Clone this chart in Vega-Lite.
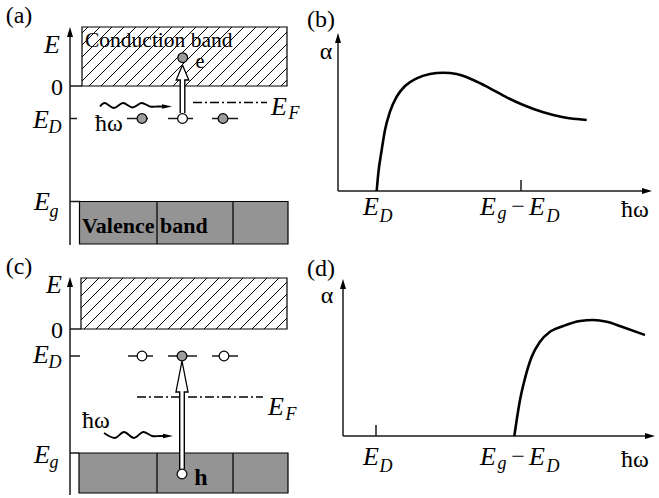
{
 "$schema": "https://vega.github.io/schema/vega-lite/v6.json",
 "width": 659, "height": 498, "padding": 0,
 "autosize": {"type": "fit", "contains": "padding"},
 "config": {"view": {"stroke": null}, "text": {"font": "Liberation Serif", "baseline": "alphabetic"}},
 "encoding": {
  "x": {"field": "x", "type": "quantitative", "scale": {"domain": [0, 659], "nice": false, "zero": false}, "axis": null},
  "y": {"field": "y", "type": "quantitative", "scale": {"domain": [0, 498], "nice": false, "zero": false, "reverse": true}, "axis": null}
 },
 "layer": [
  {
   "data": {"values": [
    {"x": 79.5, "x2": 288, "y": 201.5, "y2": 244},
    {"x": 79, "x2": 288, "y": 453, "y2": 493}
   ]},
   "mark": {"type": "rect", "fill": "#949494", "stroke": "black", "strokeWidth": 1.2},
   "encoding": {"x2": {"field": "x2"}, "y2": {"field": "y2"}}
  },
  {
   "data": {"values": [
    {"x": 82, "y": 33, "x2": 88, "y2": 27}, {"x": 82, "y": 45, "x2": 100, "y2": 27},
    {"x": 82, "y": 57, "x2": 112, "y2": 27}, {"x": 82, "y": 69, "x2": 124, "y2": 27},
    {"x": 82, "y": 81, "x2": 136, "y2": 27}, {"x": 89, "y": 86, "x2": 148, "y2": 27},
    {"x": 101, "y": 86, "x2": 160, "y2": 27}, {"x": 113, "y": 86, "x2": 172, "y2": 27},
    {"x": 125, "y": 86, "x2": 184, "y2": 27}, {"x": 137, "y": 86, "x2": 196, "y2": 27},
    {"x": 149, "y": 86, "x2": 208, "y2": 27}, {"x": 161, "y": 86, "x2": 220, "y2": 27},
    {"x": 173, "y": 86, "x2": 232, "y2": 27}, {"x": 185, "y": 86, "x2": 244, "y2": 27},
    {"x": 197, "y": 86, "x2": 256, "y2": 27}, {"x": 209, "y": 86, "x2": 268, "y2": 27},
    {"x": 221, "y": 86, "x2": 280, "y2": 27}, {"x": 233, "y": 86, "x2": 287, "y2": 32},
    {"x": 245, "y": 86, "x2": 287, "y2": 44}, {"x": 257, "y": 86, "x2": 287, "y2": 56},
    {"x": 269, "y": 86, "x2": 287, "y2": 68}, {"x": 281, "y": 86, "x2": 287, "y2": 80},
    {"x": 81, "y": 284, "x2": 87, "y2": 278}, {"x": 81, "y": 296, "x2": 99, "y2": 278},
    {"x": 81, "y": 308, "x2": 111, "y2": 278}, {"x": 81, "y": 320, "x2": 123, "y2": 278},
    {"x": 84, "y": 329, "x2": 135, "y2": 278}, {"x": 96, "y": 329, "x2": 147, "y2": 278},
    {"x": 108, "y": 329, "x2": 159, "y2": 278}, {"x": 120, "y": 329, "x2": 171, "y2": 278},
    {"x": 132, "y": 329, "x2": 183, "y2": 278}, {"x": 144, "y": 329, "x2": 195, "y2": 278},
    {"x": 156, "y": 329, "x2": 207, "y2": 278}, {"x": 168, "y": 329, "x2": 219, "y2": 278},
    {"x": 180, "y": 329, "x2": 231, "y2": 278}, {"x": 192, "y": 329, "x2": 243, "y2": 278},
    {"x": 204, "y": 329, "x2": 255, "y2": 278}, {"x": 216, "y": 329, "x2": 267, "y2": 278},
    {"x": 228, "y": 329, "x2": 279, "y2": 278}, {"x": 240, "y": 329, "x2": 287, "y2": 282},
    {"x": 252, "y": 329, "x2": 287, "y2": 294}, {"x": 264, "y": 329, "x2": 287, "y2": 306},
    {"x": 276, "y": 329, "x2": 287, "y2": 318}
   ]},
   "mark": {"type": "rule", "stroke": "black", "strokeWidth": 1},
   "encoding": {"x2": {"field": "x2"}, "y2": {"field": "y2"}}
  },
  {
   "data": {"values": [
    {"x": 82, "x2": 287, "y": 27, "y2": 86},
    {"x": 81, "x2": 287, "y": 278, "y2": 329}
   ]},
   "mark": {"type": "rect", "fillOpacity": 0, "stroke": "black", "strokeWidth": 1.2},
   "encoding": {"x2": {"field": "x2"}, "y2": {"field": "y2"}}
  },
  {
   "data": {"values": [
    {"x": 70, "y": 30, "x2": 70, "y2": 245},
    {"x": 70, "y": 86, "x2": 82, "y2": 86},
    {"x": 70, "y": 118.5, "x2": 77, "y2": 118.5},
    {"x": 70, "y": 201.5, "x2": 80, "y2": 201.5},
    {"x": 157, "y": 201.5, "x2": 157, "y2": 244},
    {"x": 233, "y": 201.5, "x2": 233, "y2": 244},
    {"x": 127, "y": 118.5, "x2": 148, "y2": 118.5},
    {"x": 168, "y": 118.5, "x2": 193, "y2": 118.5},
    {"x": 212, "y": 118.5, "x2": 238, "y2": 118.5},
    {"x": 70, "y": 280, "x2": 70, "y2": 495},
    {"x": 70, "y": 329, "x2": 81, "y2": 329},
    {"x": 70, "y": 356, "x2": 80, "y2": 356},
    {"x": 70, "y": 453, "x2": 79, "y2": 453},
    {"x": 157, "y": 453, "x2": 157, "y2": 493},
    {"x": 233, "y": 453, "x2": 233, "y2": 493},
    {"x": 128, "y": 356, "x2": 153, "y2": 356},
    {"x": 168, "y": 356, "x2": 197, "y2": 356},
    {"x": 212, "y": 356, "x2": 238, "y2": 356},
    {"x": 338, "y": 36, "x2": 338, "y2": 191},
    {"x": 338, "y": 191, "x2": 649, "y2": 191},
    {"x": 521, "y": 180, "x2": 521, "y2": 191},
    {"x": 343, "y": 282, "x2": 343, "y2": 436},
    {"x": 343, "y": 436, "x2": 652, "y2": 436},
    {"x": 376, "y": 425, "x2": 376, "y2": 436}
   ]},
   "mark": {"type": "rule", "stroke": "#1a1a1a", "strokeWidth": 1.5},
   "encoding": {"x2": {"field": "x2"}, "y2": {"field": "y2"}}
  },
  {
   "data": {"values": [
    {"x": 193, "y": 102.5, "x2": 267, "y2": 102.5},
    {"x": 137, "y": 397, "x2": 263, "y2": 397}
   ]},
   "mark": {"type": "rule", "stroke": "black", "strokeWidth": 1.6, "strokeDash": [9, 3, 2, 3]},
   "encoding": {"x2": {"field": "x2"}, "y2": {"field": "y2"}}
  },
  {
   "data": {"values": [
    {"id": "b", "x": 376.7, "y": 191}, {"id": "b", "x": 378.3, "y": 173.3},
    {"id": "b", "x": 381.7, "y": 150}, {"id": "b", "x": 385, "y": 130},
    {"id": "b", "x": 390, "y": 111.7}, {"id": "b", "x": 396.7, "y": 96.7},
    {"id": "b", "x": 405, "y": 86}, {"id": "b", "x": 416.7, "y": 78.3},
    {"id": "b", "x": 430, "y": 74}, {"id": "b", "x": 443.3, "y": 72.7},
    {"id": "b", "x": 456.7, "y": 74}, {"id": "b", "x": 473.3, "y": 80},
    {"id": "b", "x": 490, "y": 88.3}, {"id": "b", "x": 506.7, "y": 97.3},
    {"id": "b", "x": 523.3, "y": 105}, {"id": "b", "x": 543.3, "y": 112.3},
    {"id": "b", "x": 563.3, "y": 117.3}, {"id": "b", "x": 586.7, "y": 120},
    {"id": "d", "x": 514.3, "y": 436}, {"id": "d", "x": 516.7, "y": 420},
    {"id": "d", "x": 520, "y": 400}, {"id": "d", "x": 525, "y": 378.3},
    {"id": "d", "x": 531.7, "y": 356.7}, {"id": "d", "x": 540, "y": 341.7},
    {"id": "d", "x": 550, "y": 331.7}, {"id": "d", "x": 563.3, "y": 326},
    {"id": "d", "x": 580, "y": 321}, {"id": "d", "x": 593.3, "y": 320},
    {"id": "d", "x": 606.7, "y": 321.7}, {"id": "d", "x": 623.3, "y": 327.3},
    {"id": "d", "x": 645, "y": 335}
   ]},
   "mark": {"type": "line", "stroke": "black", "strokeWidth": 2.6, "interpolate": "monotone"},
   "encoding": {"detail": {"field": "id"}}
  },
  {
   "data": {"values": [
    {"id": "a", "x": 100, "y": 106.5}, {"id": "a", "x": 105, "y": 103},
    {"id": "a", "x": 114, "y": 108}, {"id": "a", "x": 123, "y": 103},
    {"id": "a", "x": 132.5, "y": 107.5}, {"id": "a", "x": 141.5, "y": 103},
    {"id": "a", "x": 150, "y": 106.5}, {"id": "a", "x": 158, "y": 106.5},
    {"id": "a", "x": 166, "y": 106.5},
    {"id": "c", "x": 104, "y": 433}, {"id": "c", "x": 115, "y": 438},
    {"id": "c", "x": 124, "y": 432}, {"id": "c", "x": 134, "y": 438},
    {"id": "c", "x": 143, "y": 432}, {"id": "c", "x": 152, "y": 436},
    {"id": "c", "x": 160, "y": 436}, {"id": "c", "x": 167, "y": 436}
   ]},
   "mark": {"type": "line", "stroke": "black", "strokeWidth": 1.8, "interpolate": "cardinal"},
   "encoding": {"detail": {"field": "id"}}
  },
  {
   "data": {"values": [
    {"x": 70, "y": 32}, {"x": 338, "y": 38}, {"x": 70, "y": 282}, {"x": 343, "y": 284}
   ]},
   "mark": {"type": "point", "shape": "M0,-1L0.6,1L-0.6,1Z", "size": 100, "filled": true, "fill": "black", "strokeWidth": 0, "opacity": 1}
  },
  {
   "data": {"values": [
    {"x": 647, "y": 191}, {"x": 650, "y": 436}
   ]},
   "mark": {"type": "point", "shape": "M1,0L-1,0.6L-1,-0.6Z", "size": 100, "filled": true, "fill": "black", "strokeWidth": 0, "opacity": 1}
  },
  {
   "data": {"values": [
    {"x": 167, "y": 106.5}, {"x": 168, "y": 436}
   ]},
   "mark": {"type": "point", "shape": "M1,0L-1,0.45L-1,-0.45Z", "size": 100, "filled": true, "fill": "black", "strokeWidth": 0, "opacity": 1}
  },
  {
   "data": {"values": [
    {"x": 182.5, "y": 79, "x2": 182.5, "y2": 113},
    {"x": 182, "y": 390, "x2": 182, "y2": 469}
   ]},
   "mark": {"type": "rule", "stroke": "black", "strokeWidth": 6},
   "encoding": {"x2": {"field": "x2"}, "y2": {"field": "y2"}}
  },
  {
   "data": {"values": [{"x": 182.5, "y": 72.5}]},
   "mark": {"type": "point", "shape": "M0,-1L0.84,1L-0.84,1Z", "size": 225, "filled": true, "fill": "white", "stroke": "black", "strokeWidth": 1.3, "opacity": 1}
  },
  {
   "data": {"values": [{"x": 182, "y": 376.5}]},
   "mark": {"type": "point", "shape": "M0,-1L0.39,1L-0.39,1Z", "size": 961, "filled": true, "fill": "white", "stroke": "black", "strokeWidth": 1.3, "opacity": 1}
  },
  {
   "data": {"values": [
    {"x": 182.5, "y": 77.5, "x2": 182.5, "y2": 113},
    {"x": 182, "y": 388, "x2": 182, "y2": 469}
   ]},
   "mark": {"type": "rule", "stroke": "white", "strokeWidth": 3.2},
   "encoding": {"x2": {"field": "x2"}, "y2": {"field": "y2"}}
  },
  {
   "data": {"values": [
    {"x": 182.7, "y": 57.7}, {"x": 142, "y": 118.5}, {"x": 223, "y": 118.5}, {"x": 182, "y": 356}
   ]},
   "mark": {"type": "point", "shape": "circle", "size": 95, "filled": true, "fill": "#9c9c9c", "stroke": "black", "strokeWidth": 1.2, "opacity": 1}
  },
  {
   "data": {"values": [
    {"x": 182.5, "y": 118.5}, {"x": 142, "y": 356}, {"x": 224, "y": 356}, {"x": 182, "y": 474}
   ]},
   "mark": {"type": "point", "shape": "circle", "size": 95, "filled": true, "fill": "white", "stroke": "black", "strokeWidth": 1.2, "opacity": 1}
  },
  {
   "data": {"values": [
    {"x": 52, "y": 53, "t": "E"}, {"x": 54, "y": 293, "t": "E"},
    {"x": 41, "y": 128, "t": "E"}, {"x": 42, "y": 210, "t": "E"}, {"x": 279, "y": 115, "t": "E"},
    {"x": 41, "y": 363, "t": "E"}, {"x": 42, "y": 463, "t": "E"}, {"x": 276, "y": 415, "t": "E"},
    {"x": 371, "y": 215, "t": "E"}, {"x": 488, "y": 215, "t": "E"}, {"x": 537, "y": 215, "t": "E"},
    {"x": 371, "y": 465, "t": "E"}, {"x": 488, "y": 465, "t": "E"}, {"x": 537, "y": 465, "t": "E"}
   ]},
   "mark": {"type": "text", "fontSize": 26, "fontStyle": "italic", "align": "center"},
   "encoding": {"text": {"field": "t"}}
  },
  {
   "data": {"values": [
    {"x": 55, "y": 133, "t": "D"}, {"x": 54, "y": 217, "t": "g"}, {"x": 294, "y": 119, "t": "F"},
    {"x": 55, "y": 368, "t": "D"}, {"x": 54, "y": 468, "t": "g"}, {"x": 291, "y": 420, "t": "F"},
    {"x": 386, "y": 222, "t": "D"}, {"x": 502, "y": 219, "t": "g"}, {"x": 553, "y": 222, "t": "D"},
    {"x": 386, "y": 472, "t": "D"}, {"x": 502, "y": 469, "t": "g"}, {"x": 553, "y": 472, "t": "D"}
   ]},
   "mark": {"type": "text", "fontSize": 18, "fontStyle": "italic", "align": "center"},
   "encoding": {"text": {"field": "t"}}
  },
  {
   "data": {"values": [
    {"x": 19, "y": 23, "t": "(a)"}, {"x": 321, "y": 27, "t": "(b)"},
    {"x": 19, "y": 274, "t": "(c)"}, {"x": 321, "y": 276, "t": "(d)"},
    {"x": 326, "y": 59, "t": "α"}, {"x": 327, "y": 303, "t": "α"},
    {"x": 57, "y": 95, "t": "0"}, {"x": 57, "y": 338, "t": "0"},
    {"x": 518, "y": 214, "t": "−"}, {"x": 518, "y": 464, "t": "−"},
    {"x": 109, "y": 131, "t": "ħω"}, {"x": 96, "y": 428, "t": "ħω"},
    {"x": 635, "y": 217, "t": "ħω"}, {"x": 635, "y": 467, "t": "ħω"}
   ]},
   "mark": {"type": "text", "fontSize": 24, "align": "center"},
   "encoding": {"text": {"field": "t"}}
  },
  {
   "data": {"values": [{"x": 200, "y": 68, "t": "e"}]},
   "mark": {"type": "text", "fontSize": 20, "align": "center"},
   "encoding": {"text": {"field": "t"}}
  },
  {
   "data": {"values": [{"x": 85, "y": 47, "t": "Conduction band"}]},
   "mark": {"type": "text", "fontSize": 21.5, "align": "left"},
   "encoding": {"text": {"field": "t"}}
  },
  {
   "data": {"values": [{"x": 82, "y": 233, "t": "Valence band"}]},
   "mark": {"type": "text", "fontSize": 22, "fontWeight": "bold", "align": "left"},
   "encoding": {"text": {"field": "t"}}
  },
  {
   "data": {"values": [{"x": 201, "y": 485, "t": "h"}]},
   "mark": {"type": "text", "fontSize": 24, "fontWeight": "bold", "align": "center"},
   "encoding": {"text": {"field": "t"}}
  }
 ]
}
